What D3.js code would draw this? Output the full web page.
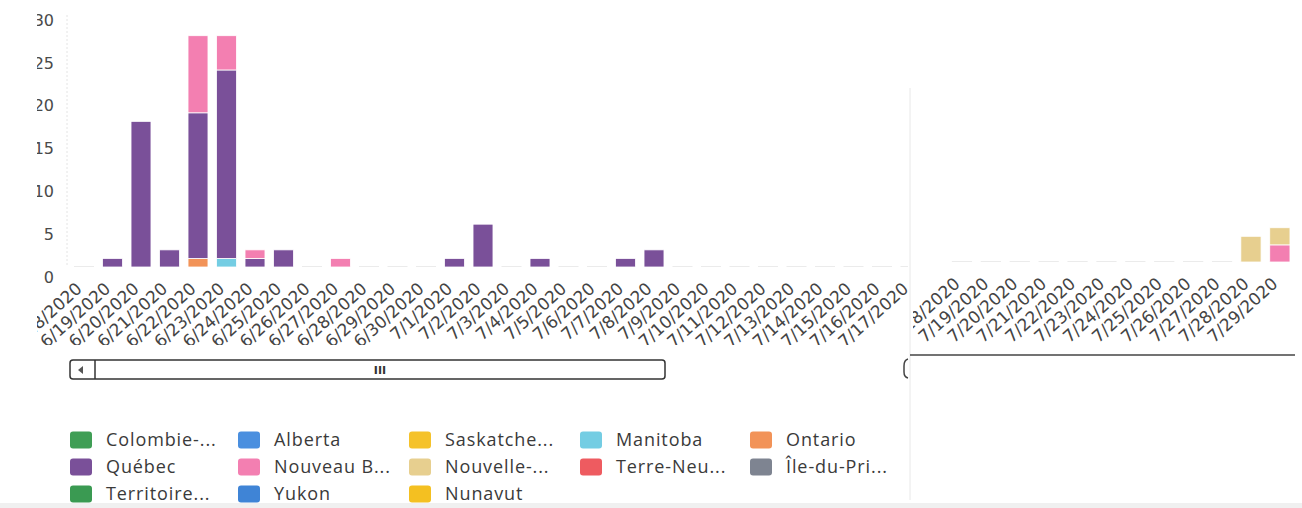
<!DOCTYPE html>
<html>
<head>
<meta charset="utf-8">
<script src="https://cdn.jsdelivr.net/npm/d3@7"></script>
<style>
  body { margin: 0; background: #fff; }
  svg { display: block; }
</style>
</head>
<body>
<div id="chart"></div>
<script>
// Dates on the x axis
const dates = [
  "6/18/2020", "6/19/2020", "6/20/2020", "6/21/2020", "6/22/2020", "6/23/2020",
  "6/24/2020", "6/25/2020", "6/26/2020", "6/27/2020", "6/28/2020", "6/29/2020",
  "6/30/2020", "7/1/2020", "7/2/2020", "7/3/2020", "7/4/2020", "7/5/2020",
  "7/6/2020", "7/7/2020", "7/8/2020", "7/9/2020", "7/10/2020", "7/11/2020",
  "7/12/2020", "7/13/2020", "7/14/2020", "7/15/2020", "7/16/2020", "7/17/2020",
  "7/18/2020", "7/19/2020", "7/20/2020", "7/21/2020", "7/22/2020", "7/23/2020",
  "7/24/2020", "7/25/2020", "7/26/2020", "7/27/2020", "7/28/2020", "7/29/2020"
];

// Legend order = stacking order
const provinces = [
  "Colombie-Britannique", "Alberta", "Saskatchewan", "Manitoba", "Ontario",
  "Québec", "Nouveau-Brunswick", "Nouvelle-Écosse", "Terre-Neuve-et-Labrador",
  "Île-du-Prince-Édouard", "Territoires du Nord-Ouest", "Yukon", "Nunavut"
];
const legendLabels = [
  "Colombie-...", "Alberta", "Saskatche...", "Manitoba", "Ontario",
  "Québec", "Nouveau B...", "Nouvelle-...", "Terre-Neu...",
  "Île-du-Pri...", "Territoire...", "Yukon", "Nunavut"
];
const colors = [
  "#3f9e55", "#4a8fdf", "#f5c22a", "#74cde3", "#f29358",
  "#7a5099", "#f37fb1", "#e7cf8f", "#ee5b60",
  "#7e8491", "#3a9a52", "#3f84d6", "#f4c021"
];

// Values per date (same order as dates); provinces not listed had no cases
const quebec = [
  0, 1, 17, 2, 17, 22, 1, 2, 0, 0, 0, 0, 0, 1, 5, 0, 1, 0, 0, 1, 2,
  0, 0, 0, 0, 0, 0, 0, 0, 0, 0, 0, 0, 0, 0, 0, 0, 0, 0, 0, 0, 0
];
const nouveauBrunswick = [
  0, 0, 0, 0, 9, 4, 1, 0, 0, 1, 0, 0, 0, 0, 0, 0, 0, 0, 0, 0, 0,
  0, 0, 0, 0, 0, 0, 0, 0, 0, 0, 0, 0, 0, 0, 0, 0, 0, 0, 0, 0, 2
];
const ontario = [
  0, 0, 0, 0, 1, 0, 0, 0, 0, 0, 0, 0, 0, 0, 0, 0, 0, 0, 0, 0, 0,
  0, 0, 0, 0, 0, 0, 0, 0, 0, 0, 0, 0, 0, 0, 0, 0, 0, 0, 0, 0, 0
];
const manitoba = [
  0, 0, 0, 0, 0, 1, 0, 0, 0, 0, 0, 0, 0, 0, 0, 0, 0, 0, 0, 0, 0,
  0, 0, 0, 0, 0, 0, 0, 0, 0, 0, 0, 0, 0, 0, 0, 0, 0, 0, 0, 0, 0
];
const nouvelleEcosse = [
  0, 0, 0, 0, 0, 0, 0, 0, 0, 0, 0, 0, 0, 0, 0, 0, 0, 0, 0, 0, 0,
  0, 0, 0, 0, 0, 0, 0, 0, 0, 0, 0, 0, 0, 0, 0, 0, 0, 0, 0, 3, 2
];
const seriesByProvince = {
  "Manitoba": manitoba,
  "Ontario": ontario,
  "Québec": quebec,
  "Nouveau-Brunswick": nouveauBrunswick,
  "Nouvelle-Écosse": nouvelleEcosse
};
const yTicks = [0, 5, 10, 15, 20, 25, 30];

const width = 1302, height = 508;
const color = d3.scaleOrdinal().domain(provinces).range(colors);

// Build table rows for d3.stack
const table = dates.map((d, i) => {
  const row = { date: d };
  provinces.forEach(p => { row[p] = seriesByProvince[p] ? seriesByProvince[p][i] : 0; });
  return row;
});
const stacked = d3.stack().keys(provinces)(table);

const svg = d3.select("#chart").append("svg")
  .attr("width", width)
  .attr("height", height);

svg.append("rect").attr("width", width).attr("height", height).attr("fill", "#fff");

const defs = svg.append("defs");

// The picture is two captures side by side; draw each part as its own panel
function drawPanel(id, from, to, r0, r1, baseY, clipX0, clipX1, showYAxis) {
  defs.append("clipPath").attr("id", id)
    .append("rect")
    .attr("x", clipX0).attr("y", 0)
    .attr("width", clipX1 - clipX0).attr("height", 345);

  const g = svg.append("g").attr("clip-path", `url(#${id})`);
  const panelDates = dates.slice(from, to);

  const x = d3.scaleBand()
    .domain(panelDates)
    .range([r0, r1])
    .paddingInner(0.3)
    .paddingOuter(0.15);

  const y = d3.scaleLinear()
    .domain([0, 30])
    .range([baseY, baseY - 257]);

  if (showYAxis) {
    g.append("line")
      .attr("x1", 67).attr("x2", 67)
      .attr("y1", y(30) + 5).attr("y2", y(0))
      .attr("stroke", "#e4e4e4")
      .attr("stroke-dasharray", "2,2");

    const yAxis = g.append("g")
      .attr("transform", "translate(57,0)")
      .call(d3.axisLeft(y).tickValues(yTicks).tickSize(0));
    yAxis.select(".domain").remove();
    yAxis.selectAll("text")
      .attr("dy", "0.95em")
      .attr("fill", "#4a4a4a")
      .style("font-family", "DejaVu Sans")
      .style("font-size", "16px");
  }

  // faint stubs at zero for every date
  g.append("g").selectAll("rect")
    .data(panelDates)
    .join("rect")
    .attr("x", d => x(d))
    .attr("y", y(0) - 1)
    .attr("width", x.bandwidth())
    .attr("height", 1)
    .attr("fill", "#ebebeb");

  g.append("g").selectAll("g")
    .data(stacked)
    .join("g")
    .attr("fill", s => color(s.key))
    .selectAll("rect")
    .data(s => s.slice(from, to).filter(v => v[1] - v[0] > 0))
    .join("rect")
    .attr("x", v => x(v.data.date))
    .attr("y", v => y(v[1]))
    .attr("width", x.bandwidth())
    .attr("height", v => y(v[0]) - y(v[1]))
    .attr("stroke", "#fff")
    .attr("stroke-width", 0.8);

  const xAxis = g.append("g")
    .attr("transform", `translate(0,${baseY})`)
    .call(d3.axisBottom(x).tickSize(0));
  xAxis.select(".domain").remove();
  xAxis.selectAll("text")
    .attr("text-anchor", "end")
    .attr("dy", 0)
    .attr("transform", "translate(-3,21) rotate(-42)")
    .attr("fill", "#444")
    .style("font-family", "DejaVu Sans")
    .style("font-size", "17px");

  return x;
}

drawPanel("clipLeft", 0, 30, 69.75, 924.75, 267, 37, 908, true);
drawPanel("clipRight", 30, 42, 947.5, 1294.3, 262, 913, 1302, false);

// seam between the two captures
svg.append("line")
  .attr("x1", 910).attr("x2", 910)
  .attr("y1", 88).attr("y2", 500)
  .attr("stroke", "#e8e8e8");

// scrollbar (left capture)
const sb = svg.append("g");
sb.append("rect")
  .attr("x", 70).attr("y", 360).attr("width", 595).attr("height", 19)
  .attr("rx", 3).attr("fill", "#fff")
  .attr("stroke", "#333").attr("stroke-width", 1.5);
sb.append("line")
  .attr("x1", 95).attr("x2", 95).attr("y1", 360).attr("y2", 379)
  .attr("stroke", "#333").attr("stroke-width", 1.5);
sb.append("path")
  .attr("d", "M78,370 L83,366 L83,374 Z")
  .attr("fill", "#555");
sb.append("text")
  .attr("x", 380).attr("y", 374)
  .attr("text-anchor", "middle")
  .attr("fill", "#333")
  .style("font-family", "DejaVu Sans")
  .style("font-size", "11px")
  .style("font-weight", "bold")
  .text("III");

// scrollbar edge (right capture)
sb.append("line")
  .attr("x1", 910).attr("x2", 1295).attr("y1", 355).attr("y2", 355)
  .attr("stroke", "#444").attr("stroke-width", 1.5);
sb.append("path")
  .attr("d", "M908,359 Q904,360 904,366 L904,372 Q904,377 908,378")
  .attr("fill", "none").attr("stroke", "#444").attr("stroke-width", 1.5);

// legend
const colX = [70, 238, 409, 580, 750];
const legend = svg.append("g")
  .selectAll("g")
  .data(provinces)
  .join("g")
  .attr("transform", (p, i) => `translate(${colX[i % 5]},${440 + Math.floor(i / 5) * 27})`);

legend.append("rect")
  .attr("x", 0).attr("y", -8.5)
  .attr("width", 22).attr("height", 17)
  .attr("rx", 3)
  .attr("fill", p => color(p));

legend.append("text")
  .attr("x", 36).attr("y", 0)
  .attr("dy", "0.35em")
  .attr("fill", "#3a3a3a")
  .style("font-family", "Open Sans")
  .style("font-size", "18px")
  .style("letter-spacing", "0.9px")
  .text((p, i) => legendLabels[i]);

// light band at the bottom edge
svg.append("rect")
  .attr("x", 0).attr("y", 503).attr("width", width).attr("height", 5)
  .attr("fill", "#f0f0f0");
</script>
</body>
</html>
